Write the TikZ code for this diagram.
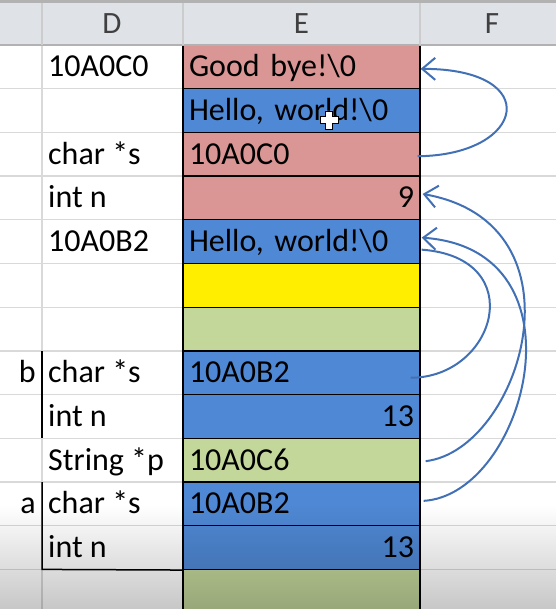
\documentclass[tikz,border=0pt]{standalone}
\usepackage{fontspec}
\setmainfont{Carlito}
\usetikzlibrary{arrows.meta,fadings}

\begin{document}
\begin{tikzpicture}[x=1pt,y=-1pt,
        celda/.style={draw=black,line width=1.3pt,minimum height=43.7pt,
            text width=225pt,inner xsep=6pt,inner ysep=0pt,
            text height=20pt,text depth=0pt,font=\fontsize{32}{36}\selectfont},
        etiqueta/.style={inner sep=0pt,text height=20pt,text depth=0pt,
            font=\fontsize{32}{36}\selectfont},
        cabecera/.style={inner sep=0pt,text=black!75,font=\fontsize{31}{36}\selectfont},
        rejilla/.style={draw=black!15,line width=1.2pt},
        puntero/.style={draw=flecha,line width=2pt},
        punta/.style={-{Straight Barb[length=13pt,width=22pt]}}]
        %colores
        \definecolor{rojo}{HTML}{DA9694}
        \definecolor{azul}{HTML}{4F88D4}
        \definecolor{amarillo}{HTML}{FFEE00}
        \definecolor{oliva}{HTML}{C4D79B}
        \definecolor{flecha}{HTML}{4170B5}
        \definecolor{fondocab}{HTML}{DFE3E8}

        \useasboundingbox (0,0) rectangle (556,609);
        \clip (0,0) rectangle (556,609);

        % Rejilla
        \foreach \j in {1,...,12}
            \draw[rejilla] (0,{45+\j*43.7}) -- (556,{45+\j*43.7});
        \draw[rejilla] (42,45) -- (42,609);

        % Columna E
        \foreach \n/\col/\txt/\al in {1/rojo/{Good bye!\textbackslash 0}/left,
                2/azul/{Hello, world!\textbackslash 0}/left,3/rojo/10A0C0/left,
                4/rojo/9/right,5/azul/{Hello, world!\textbackslash 0}/left,
                6/amarillo//left,7/oliva//left,8/azul/10A0B2/left,9/azul/13/right,
                10/oliva/10A0C6/left,11/azul/10A0B2/left,12/azul/13/right,13/oliva//left}
            \node[celda,fill=\col,align=\al] (e\n) at (301.5,{45+(\n-0.5)*43.7}) {\txt};

        % Columna D
        \foreach \n/\txt in {1/10A0C0,3/char *s,4/int n,5/10A0B2,8/char *s,
                9/int n,10/String *p,11/char *s,12/int n}
            \node[etiqueta,anchor=west] (d\n) at (48,{45+(\n-0.5)*43.7}) {\txt};
        \node[etiqueta,anchor=east] (lb) at (36,{45+7.5*43.7}) {b};
        \node[etiqueta,anchor=east] (la) at (36,{45+10.5*43.7}) {a};

        % Llaves de b y a
        \draw[line width=1.5pt] (42,{45+7*43.7}) -- (42,{45+9*43.7});
        \draw[line width=1.5pt] (42,{45+10*43.7}) -- (42,{45+12*43.7}) -- (e12.south west);

        % Cursor
        \filldraw[fill=white,draw=black,line width=0.8pt] (325.5,111) -- (332.5,111)
            -- (332.5,116.5) -- (338,116.5) -- (338,123.5) -- (332.5,123.5)
            -- (332.5,129) -- (325.5,129) -- (325.5,123.5) -- (320,123.5)
            -- (320,116.5) -- (325.5,116.5) -- cycle;

        % Flechas
        \draw[puntero,punta] ([xshift=-3pt,yshift=-2pt]e3.east)
            .. controls +(108,-1) and +(124,0) .. ([yshift=-2pt]e1.east);
        \draw[puntero,punta] ([xshift=5pt,yshift=-1pt]e10.east)
            .. controls +(95,-11) and +(168,30) .. ([xshift=2pt,yshift=4pt]e4.east);
        \draw[puntero,punta] ([xshift=3pt,yshift=3pt]e11.east)
            .. controls +(102,-6) and +(169,12) .. ([xshift=1pt,yshift=4pt]e5.east);
        \draw[puntero] ([xshift=-10pt,yshift=-5pt]e8.east)
            .. controls +(85,0) and +(109,8) .. ([xshift=1pt,yshift=-8pt]e5.east);

        % Sombra de abajo
        \fill[black,fill opacity=0.22,path fading=north] (0,505) rectangle (556,609);

        % Cabecera
        \fill[fondocab] (0,0) rectangle (556,45);
        \fill[black!30] (0,0) rectangle (556,3);
        \draw[black!30,line width=1.2pt] (0,45) -- (556,45);
        \foreach \x in {42,183,420}
            \draw[black!20,line width=1.2pt] (\x,3) -- (\x,45);
        \foreach \x/\letra in {112/D,301.5/E,492/F}
            \node[cabecera] (h\letra) at (\x,24) {\letra};
    \end{tikzpicture}
\end{document}
